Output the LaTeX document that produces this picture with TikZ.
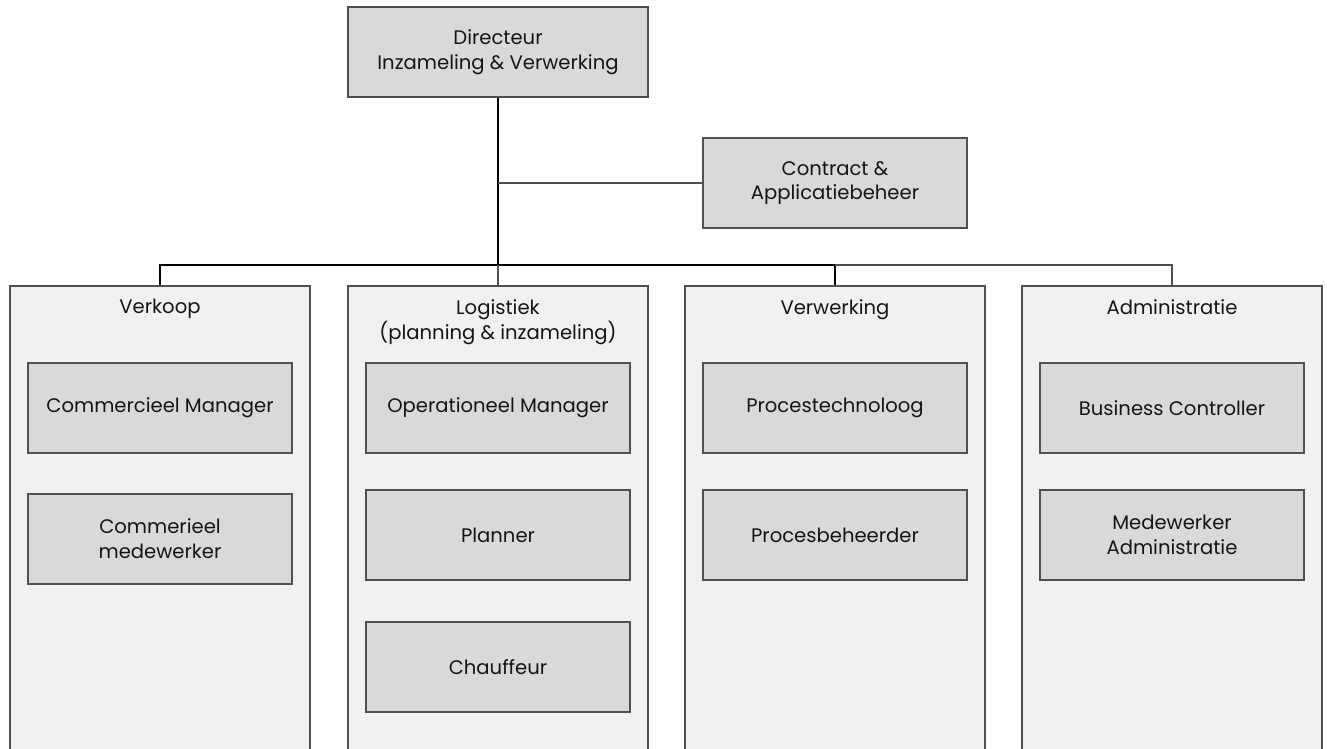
\documentclass[tikz,border=0pt]{standalone}
\usepackage{fontspec}
\setmainfont{Poppins}
\usepackage{tikz}
\usetikzlibrary{positioning}
\usepackage{xcolor}
\definecolor{boxline}{HTML}{505050}
\definecolor{colfill}{HTML}{F1F1F1}
\definecolor{boxfill}{HTML}{D9D9D9}
\definecolor{txt}{HTML}{151515}

\begin{document}
\begin{tikzpicture}[x=0.5pt, y=-0.5pt,
    font=\fontsize{9.8}{12.4}\selectfont, text=txt,
    role/.style={draw=boxline, line width=1pt, fill=boxfill, align=center,
        minimum width=132pt, minimum height=45pt, inner sep=0pt},
    dept/.style={draw=boxline, line width=1pt, fill=colfill,
        minimum width=150pt, minimum height=240pt, inner sep=0pt, anchor=north},
    conn/.style={line width=1.2pt, black},
    connlight/.style={line width=1pt, boxline}]
    \useasboundingbox (0,0) rectangle (1327,749);
    \clip (0,0) rectangle (1327,749);

    % top
    \node[role, minimum width=150pt] (dir) at (498,52) {Directeur\\Inzameling \& Verwerking};
    \node[role] (contract) at (835,183) {Contract \&\\Applicatiebeheer};

    % departments
    \foreach \dn/\dx in {verkoop/160, logistiek/498, verwerking/835, admin/1172} {
        \node[dept] (\dn) at (\dx,285) {};
    }
    \node[align=center, anchor=north, inner sep=0pt] (verkoop-t) at (160,299) {Verkoop};
    \node[align=center, anchor=north, inner sep=0pt] (logistiek-t) at (498,299) {Logistiek\\(planning \& inzameling)};
    \node[align=center, anchor=north, inner sep=0pt] (verwerking-t) at (835,299) {Verwerking};
    \node[align=center, anchor=north, inner sep=0pt] (admin-t) at (1172,299) {Administratie};

    % roles
    \node[role] (cm) at (160,408) {Commercieel Manager};
    \node[role] (cmw) at (160,539) {Commerieel\\medewerker};
    \node[role] (om) at (498,408) {Operationeel Manager};
    \node[role] (pl) at (498,535) {Planner};
    \node[role] (ch) at (498,667) {Chauffeur};
    \node[role] (pt) at (835,408) {Procestechnoloog};
    \node[role] (pb) at (835,535) {Procesbeheerder};
    \node[role] (bc) at (1172,408) {Business Controller};
    \node[role] (ma) at (1172,535) {Medewerker\\Administratie};

    % lines
    \coordinate (bus) at (498,265);
    \draw[conn] (dir.south) -- (bus);
    \draw[connlight] (dir.south |- contract.west) -- (contract.west);
    \draw[conn] (verkoop.north) -- ++(0,-20) -| (verwerking.north);
    \draw[connlight] (bus) -- (logistiek.north);
    \draw[connlight] (verwerking.north |- bus) -| (admin.north);
\end{tikzpicture}
\end{document}
